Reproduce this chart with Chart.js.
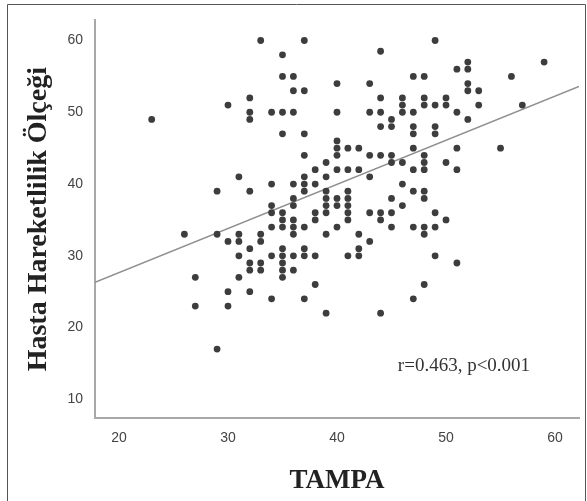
<!DOCTYPE html>
<html><head><meta charset="utf-8">
<script src="https://cdn.jsdelivr.net/npm/chart.js@4"></script>
<style>html,body{margin:0;padding:0;background:#fff}canvas{display:block}</style>
</head><body>
<canvas id="c" width="587" height="501"></canvas>
<script>
// TAMPA (x) and Hasta Hareketlilik Ölçeği (y) scores, one entry per participant
const tampa = [
  23,
  26,
  27,27,
  29,29,29,
  30,30,30,30,
  31,31,31,31,31,
  32,32,32,32,32,32,32,32,
  33,33,33,33,33,
  34,34,34,34,34,34,34,
  35,35,35,35,35,35,35,35,35,35,35,35,
  36,36,36,36,36,36,36,36,36,36,36,
  37,37,37,37,37,37,37,37,37,37,37,
  38,38,38,38,38,38,
  39,39,39,39,39,39,39,39,
  40,40,40,40,40,40,40,40,40,
  41,41,41,41,41,41,41,41,
  42,42,42,42,42,
  43,43,43,43,43,43,
  44,44,44,44,44,44,44,44,
  45,45,45,45,45,45,45,
  46,46,46,46,46,46,
  47,47,47,47,47,47,47,47,47,
  48,48,48,48,48,48,48,48,48,48,48,
  49,49,49,49,49,49,49,
  50,50,50,50,
  51,51,51,51,51,
  52,52,52,52,52,
  53,53,
  55,
  56,
  57,
  59
];
const mobility = [
  49,
  33,
  27,23,
  39,33,17,
  51,32,25,23,
  41,33,32,30,27,
  52,50,49,39,31,29,28,25,
  60,33,32,29,28,
  50,40,37,36,34,30,24,
  58,55,50,47,36,35,34,31,30,29,28,27,
  55,53,50,40,38,37,35,34,33,30,28,
  60,53,47,44,41,40,39,34,31,30,24,
  42,40,36,35,30,26,
  43,41,39,38,37,36,33,22,
  54,50,46,45,44,42,38,37,34,
  45,42,39,38,37,36,35,30,
  45,42,33,31,30,
  54,50,44,41,36,32,
  58.5,52,50,48,44,36,35,22,
  49,48,44,43,38,36,34,
  52,51,50,43,40,37,
  55,50,48,47,45,42,39,34,24,
  55,52,51,44,43,42,39,38,34,33,26,
  60,51,48,47,36,34,30,
  52,51,43,35,
  56,50,45,42,29,
  57,56,54,53,49,
  53,51,
  45,
  55,
  51,
  57
];
// fitted regression line, read at the left and right edges of the plot
const fitX = [17.8, 62.2];
const fitY = [26.3, 53.6];
const xTicks = [20, 30, 40, 50, 60];
const yTicks = [10, 20, 30, 40, 50, 60];
const xTitle = 'TAMPA';
const yTitle = 'Hasta Hareketlilik Ölçeği';
const note = 'r=0.463, p<0.001';

const points = tampa.map((x, i) => ({x: x, y: mobility[i]}));
const fit = fitX.map((x, i) => ({x: x, y: fitY[i]}));

const extras = {
  id: 'extras',
  afterDraw(chart) {
    const c = chart.ctx;
    c.save();
    c.strokeStyle = '#555';
    c.lineWidth = 1;
    c.beginPath();
    c.moveTo(7.5, 501); c.lineTo(7.5, 4.5); c.lineTo(585.5, 4.5); c.lineTo(585.5, 501);
    c.stroke();
    const xs = chart.scales.x, ys = chart.scales.y;
    c.fillStyle = '#333';
    c.font = '19px "Liberation Serif"';
    c.textAlign = 'center';
    c.textBaseline = 'middle';
    c.fillText(note, xs.getPixelForValue(51.65), ys.getPixelForValue(14.7));
    c.restore();
  }
};

new Chart(document.getElementById('c'), {
  type: 'scatter',
  data: {
    datasets: [
      {
        label: 'points',
        data: points,
        backgroundColor: '#3d3d3d',
        borderWidth: 0,
        pointRadius: 3.4,
        pointHoverRadius: 3.4
      },
      {
        label: 'fit',
        data: fit,
        showLine: true,
        borderColor: '#8f8f8f',
        borderWidth: 1.5,
        pointRadius: 0,
        fill: false
      }
    ]
  },
  options: {
    responsive: false,
    animation: false,
    events: [],
    layout: {padding: {top: 15, right: 8, left: 0, bottom: 0}},
    plugins: {legend: {display: false}, tooltip: {enabled: false}},
    scales: {
      x: {
        type: 'linear',
        min: 17.8, max: 62.2,
        afterBuildTicks: s => { s.ticks = xTicks.map(v => ({value: v})); },
        afterFit: s => { s.height = 83; },
        grid: {drawOnChartArea: false, drawTicks: false},
        border: {display: true, color: '#a8a8a8', width: 2},
        ticks: {padding: 12, color: '#444', font: {family: 'Liberation Sans', size: 14}},
        title: {display: true, text: xTitle, color: '#222',
          font: {family: 'Liberation Serif', size: 27, weight: 'bold'},
          padding: {top: 0, bottom: 4}}
      },
      y: {
        type: 'linear',
        min: 7.4, max: 62.8,
        afterBuildTicks: s => { s.ticks = yTicks.map(v => ({value: v})); },
        afterFit: s => { s.width = 95; },
        grid: {drawOnChartArea: false, drawTicks: false},
        border: {display: true, color: '#a8a8a8', width: 2},
        ticks: {padding: 12, color: '#444', font: {family: 'Liberation Sans', size: 14}},
        title: {display: true, text: yTitle, color: '#222',
          font: {family: 'Liberation Serif', size: 28, weight: 'bold'},
          padding: {top: 22, bottom: 0}}
      }
    }
  },
  plugins: [extras]
});
</script>
</body></html>
